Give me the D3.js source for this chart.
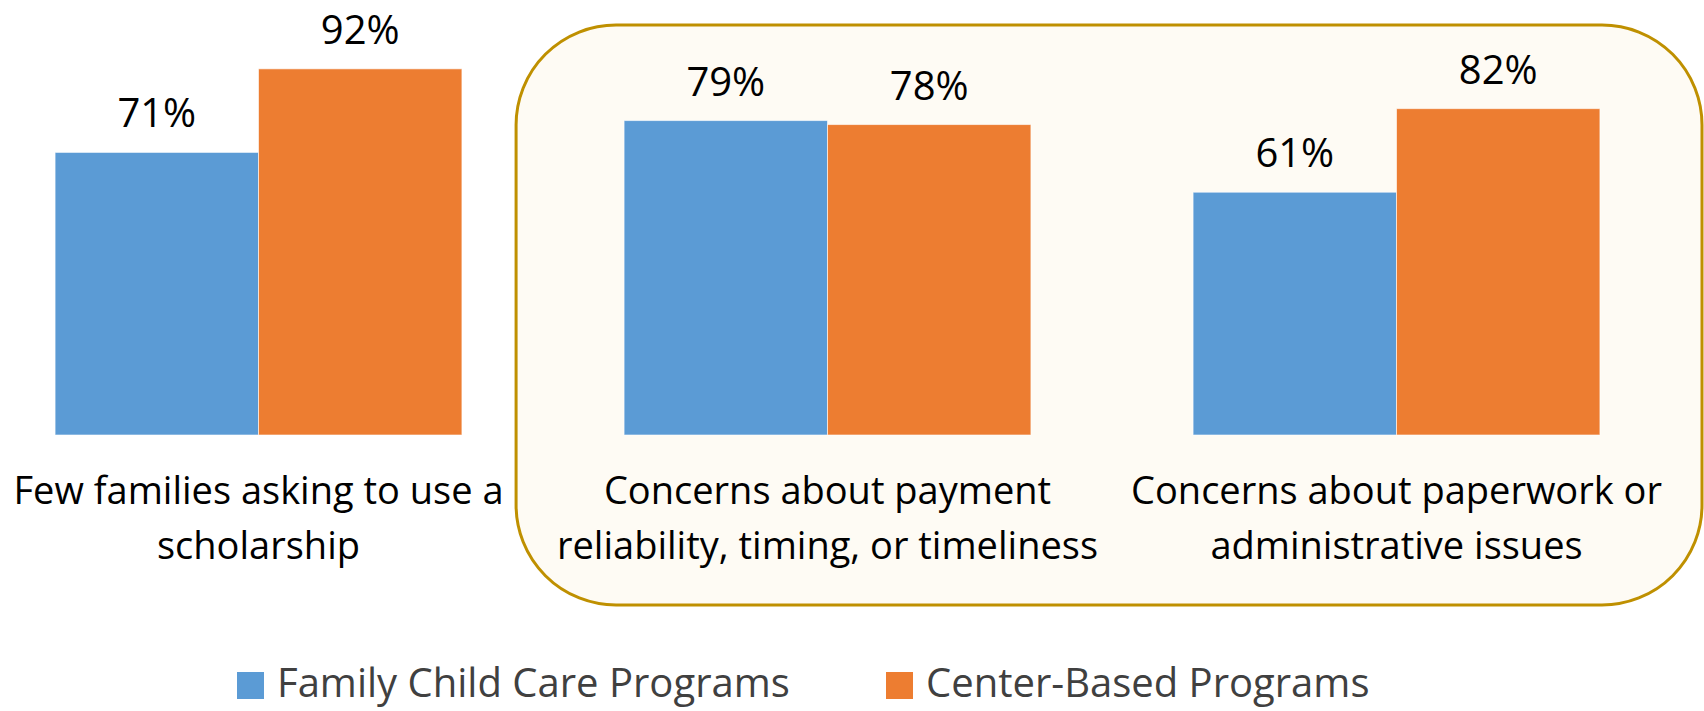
<!DOCTYPE html>
<html lang="en">

<head>
  <meta charset="UTF-8">
  <title>Scholarship concerns by program type</title>
  <script src="https://cdn.jsdelivr.net/npm/d3@7"></script>
  <style>
    body {
      margin: 0;
      padding: 0;
      background-color: #fff;
      overflow: hidden;
    }

    text {
      font-family: "Open Sans", "Noto Sans", Arial, sans-serif;
    }
  </style>
</head>

<body>
  <div id="chart"></div>

  <script>
    // chart data
    const categories = ["scholarship", "payment", "paperwork"];
    const categoryLines = [
      ["Few families asking to use a", "scholarship"],
      ["Concerns about payment", "reliability, timing, or timeliness"],
      ["Concerns about paperwork or", "administrative issues"]
    ];
    const seriesNames = ["Family Child Care Programs", "Center-Based Programs"];
    const familyValues = [71, 79, 61];
    const centerValues = [92, 78, 82];
    const colors = ["#5B9BD5", "#ED7D31"];
    // the last two categories are boxed together
    const highlighted = ["payment", "paperwork"];

    const width = 1704, height = 711;

    const svg = d3.select("#chart")
      .append("svg")
      .attr("width", width)
      .attr("height", height);

    // group scale (plot area runs a bit past the left edge, as in the original)
    const x0 = d3.scaleBand()
      .domain(categories)
      .range([-26, 1681])
      .paddingInner(0.285)
      .paddingOuter(0.1425);

    const x1 = d3.scaleBand()
      .domain(seriesNames)
      .range([0, x0.bandwidth()]);

    const y = d3.scaleLinear()
      .domain([0, 100])
      .range([435, 37]);

    // rounded highlight box behind the two concern groups
    const hiStart = x0(highlighted[0]);
    svg.append("rect")
      .attr("x", hiStart - 108)
      .attr("y", 25)
      .attr("width", width - (hiStart - 108) - 2)
      .attr("height", 580)
      .attr("rx", 100)
      .attr("ry", 100)
      .attr("fill", "#FEFBF4")
      .attr("stroke", "#BF9000")
      .attr("stroke-width", 3);

    const rows = categories.map((c, i) => ({
      category: c,
      lines: categoryLines[i],
      values: [familyValues[i], centerValues[i]]
    }));

    const groups = svg.selectAll(".group")
      .data(rows)
      .enter()
      .append("g")
      .attr("class", "group")
      .attr("transform", d => `translate(${x0(d.category)},0)`);

    const bars = groups.selectAll(".bar")
      .data(d => d.values.map((v, j) => ({ series: seriesNames[j], value: v, idx: j })))
      .enter();

    bars.append("rect")
      .attr("class", "bar")
      .attr("x", d => x1(d.series))
      .attr("y", d => y(d.value))
      .attr("width", x1.bandwidth())
      .attr("height", d => y(0) - y(d.value))
      .attr("fill", d => colors[d.idx])
      .attr("stroke", "#ffffff")
      .attr("stroke-opacity", 0.6)
      .attr("stroke-width", 1);

    // value labels
    bars.append("text")
      .attr("x", d => x1(d.series) + x1.bandwidth() / 2)
      .attr("y", d => y(d.value) - 25)
      .attr("text-anchor", "middle")
      .attr("font-size", 40)
      .attr("fill", "#000")
      .text(d => d.value + "%");

    // category labels, two lines each
    groups.append("text")
      .attr("text-anchor", "middle")
      .attr("font-size", 38)
      .attr("fill", "#000")
      .selectAll("tspan")
      .data(d => d.lines)
      .enter()
      .append("tspan")
      .attr("x", x0.bandwidth() / 2)
      .attr("y", (d, i) => 504 + i * 55)
      .text(d => d);

    // legend (kept just inside the bottom edge)
    const legendX = [237, 886];
    const legend = svg.selectAll(".legend-item")
      .data(seriesNames)
      .enter()
      .append("g")
      .attr("class", "legend-item")
      .attr("transform", (d, i) => `translate(${legendX[i]},672)`);

    legend.append("rect")
      .attr("width", 27)
      .attr("height", 27)
      .attr("fill", (d, i) => colors[i]);

    legend.append("text")
      .attr("x", 40)
      .attr("y", 25)
      .attr("font-size", 40)
      .attr("fill", "#404040")
      .text(d => d);
  </script>
</body>

</html>
